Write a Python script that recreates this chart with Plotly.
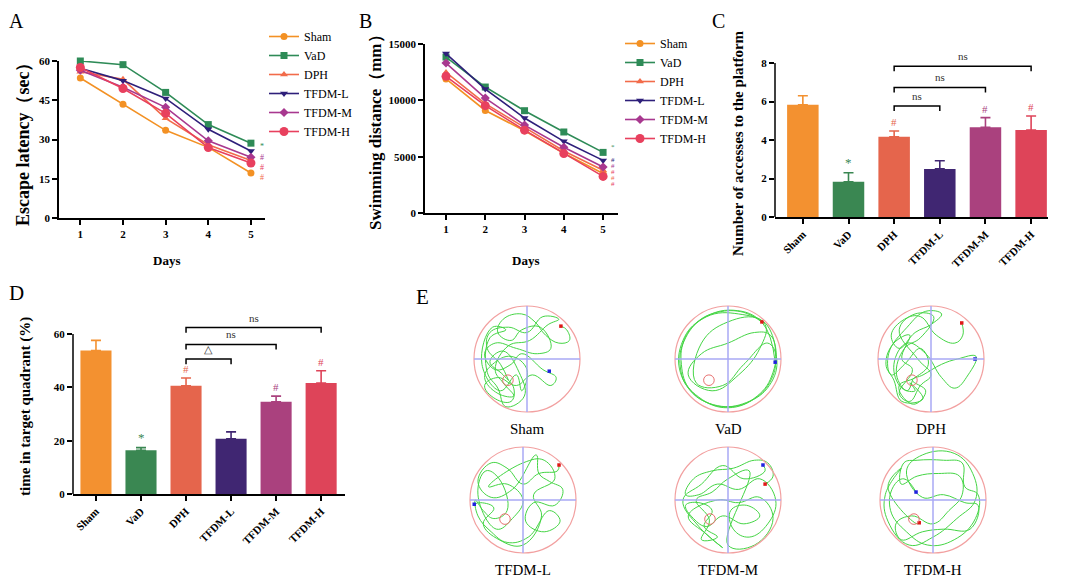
import plotly.graph_objects as go

W, H = 1065, 577
OFF = 8  # the page body adds an 8px margin around the figure
SERIF = "Liberation Serif, Times New Roman, serif"

# ---- data ----
groups = ["Sham", "VaD", "DPH", "TFDM-L", "TFDM-M", "TFDM-H"]
days = [1, 2, 3, 4, 5]

latency = {
    "Sham":   [53.5, 43.5, 33.5, 27.0, 17.2],
    "VaD":    [60.0, 58.6, 48.0, 35.7, 28.6],
    "DPH":    [55.9, 53.0, 38.1, 28.0, 22.0],
    "TFDM-L": [57.2, 52.5, 45.7, 33.9, 25.6],
    "TFDM-M": [56.5, 50.0, 42.3, 29.5, 23.2],
    "TFDM-H": [57.5, 49.5, 40.0, 26.9, 21.0],
}
distance = {
    "Sham":   [11900, 9100, 7300, 5300, 3500],
    "VaD":    [13840, 11180, 9080, 7190, 5380],
    "DPH":    [12480, 9700, 7600, 5500, 3800],
    "TFDM-L": [14150, 11000, 8430, 6360, 4670],
    "TFDM-M": [13310, 10200, 7800, 5830, 4080],
    "TFDM-H": [12130, 9530, 7350, 5270, 3250],
}

crossings = [5.83, 1.83, 4.17, 2.50, 4.66, 4.52]
crossings_err = [0.47, 0.47, 0.30, 0.42, 0.50, 0.73]
quadrant_time = [53.8, 16.4, 40.6, 20.7, 34.6, 41.6]
quadrant_err = [3.8, 1.0, 2.9, 2.6, 2.1, 4.6]

# significance marks on bars (group index, symbol)
bar_marks = [(1, "*"), (2, "#"), (4, "#"), (5, "#")]
# comparison brackets from DPH (index 2) to index k
c_brackets = [(3, 5.77, "ns"), (4, 6.73, "ns"), (5, 7.83, "ns")]
d_brackets = [(3, 50.6, "△"), (4, 56.1, "ns"), (5, 62.4, "ns")]

# marks at the end of day 5 lines
a_marks = [("*", 27.5, "VaD"), ("#", 23.1, "TFDM-M"), ("#", 19.3, "TFDM-H"), ("#", 15.5, "DPH")]
b_marks = [("*", 5860, "VaD"), ("#", 4700, "TFDM-L"), ("#", 4170, "TFDM-M"),
           ("#", 3640, "TFDM-H"), ("#", 3100, "DPH"), ("#", 2570, "TFDM-H")]

line_colors = {"Sham": "#F39124", "VaD": "#2E8B57", "DPH": "#F26B4A",
               "TFDM-L": "#2E1F7A", "TFDM-M": "#A8388F", "TFDM-H": "#E8405E"}
bar_colors = ["#F39130", "#3A8752", "#E5654C", "#402672", "#AA417E", "#DE4459"]
symbols = {"Sham": "circle", "VaD": "square", "DPH": "triangle-up",
           "TFDM-L": "triangle-down", "TFDM-M": "diamond", "TFDM-H": "circle"}
msize = {"Sham": 7, "VaD": 7, "DPH": 7, "TFDM-L": 7, "TFDM-M": 7, "TFDM-H": 9}

# swim tracks (pool radius = 1)
tracks = {
    "Sham": [(0.64, 0.62), (0.75, 0.55), (0.8, 0.35), (0.6, 0.3), (0.35, 0.45), (0.15, 0.7), (-0.1, 0.85),
             (-0.45, 0.75), (-0.55, 0.5), (-0.3, 0.35), (-0.1, 0.55), (0.25, 0.6), (0.45, 0.2), (0.2, 0.1),
             (-0.2, 0.2), (-0.6, 0.3), (-0.8, 0.1), (-0.6, -0.2), (-0.3, -0.1), (-0.1, 0.1), (0.3, -0.2),
             (0.55, -0.35), (0.45, -0.5), (0.1, -0.3), (-0.2, -0.5), (-0.55, -0.35), (-0.8, -0.5),
             (-0.6, -0.75), (-0.3, -0.8), (-0.25, -0.55), (-0.45, -0.3), (-0.7, -0.05), (-0.45, 0.15),
             (-0.15, -0.25), (-0.05, -0.7), (-0.4, -0.9), (-0.55, -0.55), (-0.75, -0.25), (-0.7, 0.4),
             (-0.4, 0.55), (-0.65, 0.6), (-0.85, -0.1), (-0.5, -0.6), (-0.2, -0.3), (-0.1, -0.6),
             (0.0, -0.2), (-0.3, 0.05), (-0.65, -0.1), (-0.8, -0.35), (-0.55, -0.65), (-0.25, -0.7),
             (-0.45, -0.45), (-0.6, -0.2), (-0.35, 0.25), (0.05, 0.35), (0.4, 0.65), (0.6, 0.75),
             (0.3, 0.8), (0.0, 0.5), (-0.35, 0.6), (-0.7, 0.5), (-0.75, 0.2), (-0.5, -0.1), (-0.35, -0.4)],
    "VaD": [(0.64, 0.7), (0.3, 0.88), (-0.2, 0.88), (-0.6, 0.68), (-0.85, 0.3), (-0.9, -0.15), (-0.75, -0.55),
            (-0.4, -0.82), (0.05, -0.9), (0.5, -0.75), (0.82, -0.38), (0.9, 0.05), (0.8, 0.45), (0.5, 0.5),
            (0.0, 0.3), (-0.5, 0.1), (-0.75, -0.3), (-0.3, -0.6), (0.2, -0.3), (0.6, 0.2), (0.7, 0.65),
            (0.2, 0.85), (-0.4, 0.8), (-0.8, 0.4), (-0.88, -0.1), (-0.7, -0.6), (-0.2, -0.88), (0.35, -0.82),
            (0.78, -0.5), (0.92, 0.0), (0.75, 0.3), (0.3, -0.1), (-0.1, -0.5), (-0.6, -0.45), (-0.5, 0.3),
            (0.0, 0.7), (0.6, 0.75), (0.88, 0.3), (0.85, -0.25), (0.55, -0.7), (0.0, -0.92), (-0.55, -0.72),
            (-0.9, -0.25), (-0.85, 0.35), (-0.5, 0.75), (0.1, 0.92), (0.65, 0.68), (0.89, -0.06)],
    "DPH": [(0.58, 0.68), (0.6, 0.45), (0.45, 0.3), (0.1, 0.45), (-0.2, 0.8), (-0.5, 0.75), (-0.75, 0.45),
            (-0.6, 0.2), (-0.3, 0.5), (0.0, 0.65), (0.2, 0.85), (-0.1, 0.9), (-0.45, 0.6), (-0.8, 0.1),
            (-0.75, -0.3), (-0.5, -0.1), (-0.2, 0.2), (-0.05, -0.1), (-0.3, -0.35), (-0.6, -0.5),
            (-0.5, -0.75), (-0.3, -0.85), (-0.1, -0.6), (-0.35, -0.4), (-0.15, -0.3), (0.2, -0.1), (0.5, 0.0),
            (0.85, 0.05), (0.7, -0.3), (0.45, -0.55), (0.2, -0.35), (-0.1, 0.1), (-0.45, 0.3), (-0.7, -0.1),
            (-0.55, -0.55), (-0.3, -0.6), (-0.4, -0.45), (-0.15, -0.75), (-0.55, -0.8), (-0.7, -0.4),
            (-0.85, -0.1), (-0.7, 0.3), (-0.4, 0.45), (-0.55, 0.0), (-0.35, -0.2), (-0.6, -0.65),
            (-0.4, -0.8), (-0.2, -0.5), (0.0, -0.3), (-0.25, 0.0), (-0.6, 0.55), (-0.3, 0.85), (0.05, 0.8),
            (-0.2, 0.4), (-0.5, 0.2), (-0.65, -0.3), (-0.45, -0.6), (-0.35, -0.4)],
    "TFDM-L": [(0.68, 0.66), (0.65, 0.55), (0.3, 0.5), (0.0, 0.3), (-0.3, 0.6), (-0.6, 0.7), (-0.85, 0.35),
               (-0.6, 0.05), (-0.2, 0.2), (0.25, 0.85), (0.3, 0.5), (0.5, 0.35), (0.75, 0.2), (0.6, -0.1),
               (0.2, -0.05), (0.05, -0.4), (0.4, -0.6), (0.7, -0.4), (0.5, -0.2), (0.1, -0.7), (-0.3, -0.8),
               (-0.6, -0.6), (-0.85, -0.3), (-0.9, 0.0), (-0.75, -0.2), (-0.55, -0.35), (-0.3, -0.2),
               (-0.45, 0.4), (-0.7, 0.55), (-0.85, 0.1), (-0.5, -0.55), (-0.2, -0.35), (0.0, 0.0),
               (-0.3, 0.3), (-0.65, 0.25), (0.0, 0.7), (0.4, 0.75), (0.6, 0.4), (0.2, 0.1), (0.35, -0.3),
               (0.0, -0.85), (-0.45, -0.75), (-0.75, -0.45), (-0.55, -0.15), (-0.8, -0.05), (-0.92, -0.08)],
    "TFDM-M": [(0.7, 0.3), (0.85, 0.45), (0.75, 0.7), (0.5, 0.75), (0.1, 0.6), (-0.3, 0.55), (-0.65, 0.4),
               (-0.8, 0.1), (-0.55, 0.1), (-0.2, 0.3), (0.2, 0.2), (0.6, 0.4), (0.9, 0.0), (0.75, -0.45),
               (0.4, -0.7), (0.1, -0.55), (0.05, -0.2), (0.35, -0.1), (0.6, -0.3), (0.3, -0.45), (-0.1, -0.3),
               (-0.4, -0.5), (-0.65, -0.35), (-0.8, -0.1), (-0.55, -0.05), (-0.3, -0.2), (-0.45, -0.5),
               (-0.2, -0.7), (-0.5, -0.75), (-0.35, -0.38), (-0.6, 0.0), (-0.3, 0.15), (0.0, 0.4),
               (0.4, 0.55), (0.0, -0.85), (0.5, -0.85), (0.85, -0.35), (0.6, 0.05), (0.2, -0.05),
               (-0.2, 0.0), (-0.75, -0.3), (-0.4, -0.65), (-0.1, -0.9), (-0.55, -0.5), (-0.85, 0.0),
               (-0.5, 0.3), (-0.1, 0.65), (0.3, 0.4), (0.7, 0.55), (0.66, 0.66)],
    "TFDM-H": [(-0.32, 0.15), (-0.55, 0.4), (-0.75, 0.25), (-0.8, -0.2), (-0.5, -0.6), (-0.1, -0.85),
               (0.4, -0.75), (0.8, -0.35), (0.85, 0.1), (0.6, 0.25), (0.55, 0.7), (0.2, 0.75), (-0.3, 0.75),
               (-0.55, 0.7), (-0.6, 0.3), (-0.3, 0.45), (0.1, 0.5), (0.5, 0.45), (0.55, 0.1), (0.3, -0.2),
               (0.0, -0.45), (-0.4, -0.3), (-0.7, -0.45), (-0.6, -0.75), (-0.2, -0.6), (0.2, -0.55),
               (0.7, -0.55), (0.85, -0.1), (0.6, -0.05), (0.2, 0.1), (-0.2, 0.05), (-0.5, 0.55),
               (-0.2, 0.85), (0.4, 0.88), (0.75, 0.5), (0.8, 0.0), (0.45, -0.35), (0.0, -0.7), (-0.45, -0.85),
               (-0.85, -0.4), (-0.9, 0.1), (-0.6, 0.6), (-0.85, 0.25), (-0.3, -0.45), (-0.26, -0.43)],
}
platform = {"Sham": (-0.36, -0.4), "VaD": (-0.36, -0.4), "DPH": (-0.36, -0.4),
            "TFDM-L": (-0.34, -0.36), "TFDM-M": (-0.34, -0.36), "TFDM-H": (-0.36, -0.36)}
red_dot = {"Sham": (0.64, 0.62), "VaD": (0.64, 0.7), "DPH": (0.58, 0.68),
           "TFDM-L": (0.68, 0.66), "TFDM-M": (0.7, 0.3), "TFDM-H": (-0.26, -0.43)}
blue_dot = {"Sham": (0.42, -0.23), "VaD": (0.89, -0.06), "DPH": (0.83, 0.0),
            "TFDM-L": (-0.92, -0.08), "TFDM-M": (0.66, 0.66), "TFDM-H": (-0.32, 0.15)}


def px(x):
    return (x - OFF) / W


def py(y):
    return 1 - (y - OFF) / H


def note(x, y, text, font, xref="paper", yref="paper", **kw):
    d = dict(x=x, y=y, xref=xref, yref=yref, text=text, showarrow=False, font=font,
             xanchor="center", yanchor="middle")
    d.update(kw)
    return d


fig = go.Figure()
annotations = []
shapes = []

tick_font = dict(family=SERIF, size=11, color="black", weight="bold")
axis_common = dict(showgrid=False, zeroline=False, linecolor="black", linewidth=1.5, automargin=False,
                   ticks="outside", ticklen=5, tickwidth=1.5, tickcolor="black", tickfont=tick_font)

# ---- A and B: line charts ----
for ax, data, leg in [("", latency, "legend"), ("2", distance, "legend2")]:
    for g in groups:
        fig.add_trace(go.Scatter(
            x=days, y=data[g], name=g, mode="lines+markers", legend=leg,
            line=dict(color=line_colors[g], width=1.6),
            marker=dict(symbol=symbols[g], size=msize[g], color=line_colors[g]),
            cliponaxis=False, xaxis="x" + ax, yaxis="y" + ax))

for sym, yv, g in a_marks:
    annotations.append(note(5.25, yv, sym, dict(family=SERIF, size=8, color=line_colors[g]), "x", "y"))
for sym, yv, g in b_marks:
    annotations.append(note(5.25, yv, sym, dict(family=SERIF, size=7, color=line_colors[g]), "x2", "y2"))

# ---- C and D: bar charts ----
idx = list(range(len(groups)))
for ax, vals, errs, brackets, dtick, ymax_axis in [
        ("3", crossings, crossings_err, c_brackets, 0.26, 8),
        ("4", quadrant_time, quadrant_err, d_brackets, 1.9, 60)]:
    for i in idx:
        fig.add_trace(go.Bar(
            x=[i], y=[vals[i]], marker=dict(color=bar_colors[i], line=dict(width=0)), width=0.69,
            error_y=dict(type="data", array=[errs[i]], arrayminus=[0], symmetric=False,
                         color=bar_colors[i], thickness=1.6, width=5),
            showlegend=False, xaxis="x" + ax, yaxis="y" + ax))
    for i, sym in bar_marks:
        annotations.append(note(i, vals[i] + errs[i], sym,
                                dict(family=SERIF, size=13 if sym == "*" else 11, color=bar_colors[i]),
                                "x" + ax, "y" + ax, yanchor="bottom", yshift=1))
    for k, yb, lab in brackets:
        shapes.append(dict(type="path", xref="x" + ax, yref="y" + ax,
                           path=f"M 2,{yb - dtick} L 2,{yb} L {k},{yb} L {k},{yb - dtick}",
                           line=dict(color="black", width=1.5)))
        annotations.append(note((2 + k) / 2, yb, lab, dict(family=SERIF, size=11, color="#333333"),
                                "x" + ax, "y" + ax, yanchor="bottom", yshift=2))
    shapes.append(dict(type="line", xref="x" + ax + " domain", yref="y" + ax,
                       x0=0, x1=0, y0=0, y1=ymax_axis, line=dict(color="black", width=1.5)))

# ---- E: swim tracks ----
centers = {"Sham": (527, 359), "VaD": (728, 359), "DPH": (931, 359),
           "TFDM-L": (523, 500), "TFDM-M": (728, 500), "TFDM-H": (933, 500)}
R = 53
for n, g in enumerate(groups):
    ax = str(5 + n)
    cx, cy = centers[g]
    half = R * 1.15
    fig.update_layout(**{
        "xaxis" + ax: dict(domain=[px(cx - half), px(cx + half)], range=[-1.15, 1.15], visible=False,
                           anchor="y" + ax, automargin=False),
        "yaxis" + ax: dict(domain=[py(cy + half), py(cy - half)], range=[-1.15, 1.15], visible=False,
                           anchor="x" + ax, automargin=False),
    })
    shapes.append(dict(type="circle", xref="x" + ax, yref="y" + ax, x0=-1, x1=1, y0=-1, y1=1,
                       line=dict(color="#F2A0A0", width=1.2)))
    shapes.append(dict(type="line", xref="x" + ax, yref="y" + ax, x0=-1, x1=1, y0=0, y1=0,
                       line=dict(color="#A8A8F5", width=1.5)))
    shapes.append(dict(type="line", xref="x" + ax, yref="y" + ax, x0=0, x1=0, y0=-1, y1=1,
                       line=dict(color="#A8A8F5", width=1.5)))
    tx = [p[0] for p in tracks[g]]
    ty = [p[1] for p in tracks[g]]
    fig.add_trace(go.Scatter(x=tx, y=ty, mode="lines",
                             line=dict(color="#45D545", width=1, shape="spline", smoothing=1.2),
                             showlegend=False, hoverinfo="skip", xaxis="x" + ax, yaxis="y" + ax))
    px0, py0 = platform[g]
    shapes.append(dict(type="circle", xref="x" + ax, yref="y" + ax, x0=px0 - 0.1, x1=px0 + 0.1,
                       y0=py0 - 0.1, y1=py0 + 0.1, line=dict(color="#E87070", width=1)))
    for dot, col in [(red_dot[g], "#E01818"), (blue_dot[g], "#2020E0")]:
        fig.add_trace(go.Scatter(x=[dot[0]], y=[dot[1]], mode="markers",
                                 marker=dict(symbol="square", size=3.5, color=col),
                                 showlegend=False, hoverinfo="skip", xaxis="x" + ax, yaxis="y" + ax))
    annotations.append(note(px(cx), py(cy + 70), g, dict(family=SERIF, size=15, color="black")))

# ---- axis titles and panel letters ----
for x in (166, 525):
    annotations.append(note(px(x), py(260), "Days", dict(family=SERIF, size=13, color="black", weight="bold")))
for t, x, y, s in [("Escape latency（sec）", 23, 140, 18), ("Swimming distance（mm）", 375, 128, 17),
                   ("Number of accesses to the platform", 738, 143, 15),
                   ("time in target quadrant (%)", 25, 407, 15)]:
    annotations.append(note(px(x), py(y), t, dict(family=SERIF, size=s, color="black", weight="bold"),
                            textangle=-90))
for t, x, y in [("A", 16, 1.0), ("B", 365, 1.0), ("C", 718, 1.0)]:
    annotations.append(note(px(x), y, t, dict(family=SERIF, size=20, color="black"), yanchor="top"))
for t, x, y in [("D", 16, 293), ("E", 422, 297)]:
    annotations.append(note(px(x), py(y), t, dict(family=SERIF, size=21, color="black")))

legend_common = dict(font=dict(family=SERIF, size=12, color="black"), bgcolor="rgba(0,0,0,0)",
                     itemwidth=30, tracegroupgap=0, xanchor="left", yanchor="top")

fig.update_layout(
    width=W, height=H, margin=dict(l=0, r=0, t=0, b=0, autoexpand=False),
    plot_bgcolor="white", paper_bgcolor="white",
    xaxis=dict(domain=[px(59), px(265)], range=[0.5, 5.33], tickvals=days, anchor="y",
               showline=True, **axis_common),
    yaxis=dict(domain=[py(218), py(61)], range=[0, 60], tickvals=[0, 15, 30, 45, 60], anchor="x",
               showline=True, **axis_common),
    xaxis2=dict(domain=[px(425), px(618)], range=[0.465, 5.38], tickvals=days, anchor="y2",
                showline=True, **axis_common),
    yaxis2=dict(domain=[py(213), py(44)], range=[0, 15000], tickvals=[0, 5000, 10000, 15000],
                tickformat="d", anchor="x2", showline=True, **axis_common),
    xaxis3=dict(domain=[px(775), px(1048)], range=[-0.61, 5.37], tickvals=idx, ticktext=groups,
                tickangle=-45, anchor="y3", showline=True, **axis_common),
    yaxis3=dict(domain=[py(217), py(45)], range=[0, (217 - 45) / 19.25], tickvals=[0, 2, 4, 6, 8],
                anchor="x3", showline=False, **axis_common),
    xaxis4=dict(domain=[px(73), px(345)], range=[-0.51, 5.53], tickvals=idx, ticktext=groups,
                tickangle=-45, anchor="y4", showline=True, **axis_common),
    yaxis4=dict(domain=[py(494), py(310)], range=[0, (494 - 310) / (160 / 60)], tickvals=[0, 20, 40, 60],
                anchor="x4", showline=False, **axis_common),
    legend=dict(x=px(264), y=py(22), **legend_common),
    legend2=dict(x=px(620), y=py(29), **legend_common),
    annotations=annotations, shapes=shapes,
)

fig.write_html("out.html")
